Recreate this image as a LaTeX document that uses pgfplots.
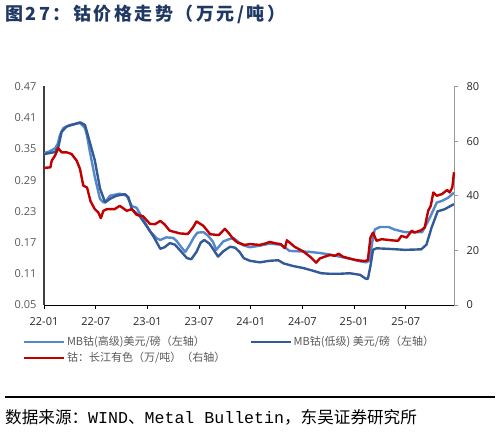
\documentclass[border=0pt]{standalone}
\usepackage{pgfplots}
\pgfplotsset{compat=1.18}
\usepackage{fontspec}
\setmainfont{Open Sans}
\setmonofont{Liberation Mono}
\newfontfamily\cjk{Noto Sans CJK SC}
\newfontfamily\cjkt{Noto Sans CJK SC}[LetterSpace=14]
\definecolor{hiblue}{RGB}{84,136,200}
\definecolor{loblue}{RGB}{50,90,152}
\definecolor{cored}{RGB}{192,0,0}
\definecolor{titlecol}{RGB}{31,56,100}
\definecolor{lblgray}{RGB}{89,89,89}

\pgfplotstableread{
m v
0 0.342
0.6 0.345
1.28 0.351
1.6 0.36
1.86 0.377
2.24 0.390
3.0 0.396
3.6 0.398
4.2 0.400
4.76 0.390
5.0 0.375
5.3 0.347
5.9 0.296
6.5 0.254
6.9 0.247
7.3 0.252
7.66 0.260
8.8 0.264
9.6 0.260
10.2 0.240
10.75 0.237
11.5 0.215
12.3 0.192
13.1 0.178
13.5 0.175
14.2 0.180
15.0 0.179
15.4 0.173
16.0 0.160
16.4 0.152
16.9 0.165
17.4 0.180
17.8 0.189
18.5 0.190
19.0 0.184
19.6 0.172
20.0 0.156
20.4 0.164
20.8 0.172
21.4 0.176
22.0 0.179
22.5 0.172
23.1 0.165
23.9 0.161
25.06 0.164
26.2 0.168
27.4 0.166
27.96 0.161
28.5 0.154
29.7 0.153
30.9 0.152
32.0 0.150
33.2 0.147
34.3 0.143
35.5 0.139
36.7 0.134
37.4 0.132
37.8 0.135
38.1 0.17
38.4 0.195
39.0 0.200
40.0 0.200
40.7 0.195
41.9 0.190
43.0 0.190
43.9 0.190
44.2 0.199
44.8 0.218
45.6 0.247
46.2 0.250
46.9 0.256
47.6 0.266
}\hitable

\pgfplotstableread{
m v
0 0.340
1.28 0.344
1.67 0.354
2.05 0.383
2.63 0.393
4.2 0.401
4.76 0.396
5.3 0.364
5.9 0.328
6.5 0.274
7.1 0.247
7.66 0.254
8.4 0.260
9.4 0.263
9.8 0.257
10.2 0.234
11.1 0.221
11.9 0.202
12.7 0.182
13.5 0.158
14.0 0.161
14.6 0.169
15.2 0.166
15.8 0.155
16.6 0.140
17.1 0.138
17.7 0.152
18.2 0.170
18.6 0.175
19.2 0.168
19.7 0.156
20.2 0.143
20.8 0.153
21.6 0.162
22.2 0.160
22.7 0.152
23.2 0.140
23.9 0.135
25.06 0.132
26.2 0.135
27.2 0.136
27.8 0.130
28.9 0.125
30.1 0.121
31.2 0.116
32.2 0.111
33.2 0.110
34.3 0.110
35.5 0.111
36.7 0.108
37.3 0.101
37.6 0.100
37.9 0.125
38.2 0.156
38.6 0.159
39.9 0.158
41.9 0.156
43.8 0.157
44.4 0.166
45.0 0.199
45.7 0.230
46.5 0.234
47.6 0.244
}\lotable

\pgfplotstableread{
m v
0 50.2
0.75 50.4
0.89 52.8
1.28 54.7
1.66 57.4
2.05 55.9
2.63 55.9
3.2 55.3
3.8 52.8
4.18 49.8
4.56 43.7
5.0 43.0
5.4 38.0
5.9 35.1
6.3 33.9
6.6 31.8
6.9 34.5
7.3 35.1
8.2 35.1
8.8 36.3
9.6 34.5
10.2 35.1
10.75 33.0
11.5 32.5
12.3 29.7
12.9 29.6
13.5 30.8
14.0 29.5
14.6 27.2
15.8 26.2
16.7 26.0
17.3 28.4
17.7 30.6
18.5 29.0
19.3 25.9
20.3 25.6
21.0 27.9
21.4 26.5
22.0 24.1
22.5 22.8
23.3 22.0
23.9 22.3
25.06 22.0
25.8 22.6
26.2 23.1
27.0 22.5
27.5 22.3
27.96 20.8
28.2 23.7
28.5 22.9
29.1 21.3
30.1 19.6
31.0 17.4
31.6 15.5
32.0 17.0
32.6 17.7
33.2 18.3
33.8 18.0
34.2 18.8
34.7 17.7
35.5 17.0
36.3 16.4
37.3 16.1
37.6 16.5
37.9 24.7
38.2 26.5
38.6 23.5
39.2 24.1
40.3 23.7
41.1 23.5
41.5 25.3
42.1 24.7
42.7 27.2
43.0 26.5
43.8 27.4
44.2 28.4
44.6 34.5
44.9 36.3
45.2 41.2
45.6 40.0
46.2 40.6
46.8 42.1
47.1 41.2
47.4 43.0
47.6 48.6
}\redtable

\begin{document}
\begin{tikzpicture}[x=1pt,y=1pt]
\path[use as bounding box] (0,0) rectangle (500,438);
\node[anchor=west, inner sep=0pt, text=titlecol, font=\cjkt\bfseries\fontsize{18}{21}\selectfont] at (5,424) {图27：钴价格走势（万元/吨）};

\begin{axis}[
  at={(44pt,133pt)}, anchor=south west, scale only axis,
  width=410pt, height=218.5pt,
  xmin=0, xmax=47.6, ymin=0.05, ymax=0.47,
  axis x line*=bottom, axis y line*=left,
  x axis line style={black, line width=0.8pt},
  y axis line style={draw=black!75, line width=1.5pt},
  xtick={0,6,12,18,24,30,36,42},
  xticklabels={22-01,22-07,23-01,23-07,24-01,24-07,25-01,25-07},
  xtick style={black, line width=0.8pt},
  tick align=outside, major tick length=4pt,
  ytick={0.05,0.11,0.17,0.23,0.29,0.35,0.41,0.47},
  ytick style={draw=none},
  yticklabel style={text=lblgray, /pgf/number format/fixed, /pgf/number format/fixed zerofill, /pgf/number format/precision=2},
  /pgf/number format/assume math mode=true,
  ticklabel style={font=\fontsize{11}{13}\selectfont},
  xticklabel style={text=black!85, yshift=-5pt},
  clip=false,
]
\addplot[hiblue, line width=2.4pt, line join=round] table[x=m,y=v] {\hitable};
\addplot[loblue, line width=2.4pt, line join=round] table[x=m,y=v] {\lotable};
\end{axis}

\begin{axis}[
  at={(44pt,133pt)}, anchor=south west, scale only axis,
  width=410pt, height=218.5pt,
  xmin=0, xmax=47.6, ymin=0, ymax=80,
  axis x line=none, axis y line*=right,
  y axis line style={draw=black!40, line width=0.8pt},
  ytick={0,20,40,60,80},
  ytick style={draw=black!40, line width=0.8pt},
  tick align=outside, major tick length=4pt,
  /pgf/number format/assume math mode=true,
  ticklabel style={font=\fontsize{11}{13}\selectfont, text=black!85},
  yticklabel style={xshift=5pt},
  clip=false,
  legend columns=2,
  legend cell align=left,
  legend style={at={(-0.06,-0.125)}, anchor=north west, draw=none, fill=none,
    font=\cjk\fontsize{11}{13}\selectfont, text=lblgray,
    /tikz/every even column/.append style={column sep=22pt},
    row sep=1pt},
  legend image code/.code={\draw[#1] (0pt,0pt) -- (40pt,0pt);},
]
\addlegendimage{hiblue, line width=2.4pt}
\addlegendentry{MB钴(高级)美元/磅（左轴）}
\addlegendimage{loblue, line width=2.4pt}
\addlegendentry{MB钴(低级) 美元/磅（左轴）}
\addplot[cored, line width=2.4pt, line join=round] table[x=m,y=v] {\redtable};
\addlegendentry{钴：长江有色（万/吨）（右轴）}
\end{axis}

\draw[line width=1.5pt] (5,41) -- (495,41);
\node[anchor=west, inner sep=0pt, font=\fontsize{16.6}{19}\selectfont] at (5,21) {{\cjk 数据来源：}{\ttfamily WIND}{\cjk 、}{\ttfamily Metal Bulletin}{\cjk ，东吴证券研究所}};
\end{tikzpicture}
\end{document}
